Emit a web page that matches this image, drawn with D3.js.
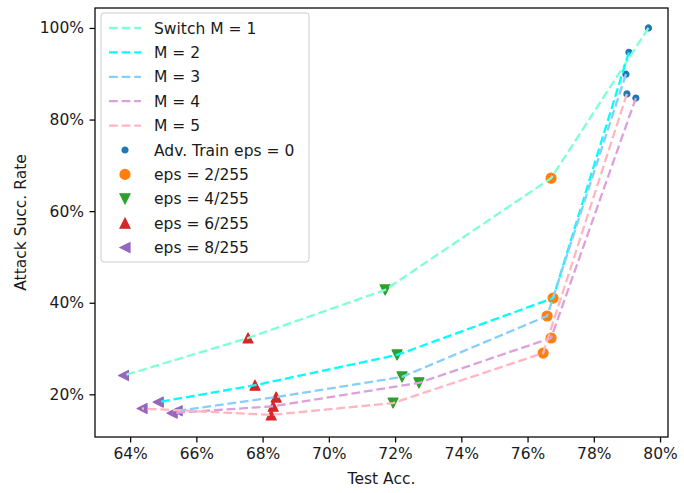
<!DOCTYPE html>
<html>
<head>
<meta charset="utf-8">
<script src="https://cdn.jsdelivr.net/npm/d3@7"></script>
<style>
  html, body { margin: 0; padding: 0; background: #fff; }
  svg { display: block; }
  text { font-family: "DejaVu Sans", sans-serif; fill: #1a1a1a; }
</style>
</head>
<body>
<svg id="chart" width="684" height="493"></svg>
<script>
// Model variants (one dashed line each)
const seriesNames = ["Switch M = 1", "M = 2", "M = 3", "M = 4", "M = 5"];
const seriesColors = ["#7fffd4", "#00ffff", "#87cefa", "#dda0dd", "#ffb6c1"];

// Adversarial-training strengths, in the same order as the values below
const epsLabels = ["Adv. Train eps = 0", "eps = 2/255", "eps = 4/255", "eps = 6/255", "eps = 8/255"];
const epsColors = ["#1f77b4", "#ff7f0e", "#2ca02c", "#d62728", "#9467bd"];
const epsMarkers = ["point", "circle", "down", "up", "left"];

// Test accuracy (%) per series, eps = 0, 2, 4, 6, 8
const testAccM1 = [79.65, 76.71, 71.70, 67.56, 63.80];
const testAccM2 = [79.06, 76.77, 72.06, 67.77, 64.85];
const testAccM3 = [78.97, 76.59, 72.21, 68.41, 65.42];
const testAccM4 = [79.27, 76.71, 72.72, 68.32, 65.27];
const testAccM5 = [79.00, 76.47, 71.94, 68.26, 64.36];

// Attack success rate (%) per series, eps = 0, 2, 4, 6, 8
const attackM1 = [100.0, 67.2, 42.8, 32.3, 24.1];
const attackM2 = [94.7, 41.0, 28.6, 22.0, 18.3];
const attackM3 = [89.9, 37.1, 23.8, 19.4, 16.4];
const attackM4 = [84.7, 32.3, 22.5, 17.4, 15.9];
const attackM5 = [85.6, 29.0, 18.1, 15.5, 16.9];

const xTicks = [64, 66, 68, 70, 72, 74, 76, 78, 80];
const yTicks = [20, 40, 60, 80, 100];

const testAcc = [testAccM1, testAccM2, testAccM3, testAccM4, testAccM5];
const attack = [attackM1, attackM2, attackM3, attackM4, attackM5];

const W = 684, H = 493;
const margin = { left: 95, top: 8, right: 16, bottom: 56 };
const pw = W - margin.left - margin.right;
const ph = H - margin.top - margin.bottom;
const fontSize = 15.5;

const svg = d3.select("#chart");
const g = svg.append("g").attr("transform", `translate(${margin.left},${margin.top})`);

const x = d3.scaleLinear().domain([62.94, 80.24]).range([0, pw]);
const y = d3.scaleLinear().domain([10.68, 104.36]).range([ph, 0]);

// Marker shapes (size = full width in px)
function markerPath(kind, s) {
  const h = s / 2;
  switch (kind) {
    case "point": { const r = s * 0.3; return `M${r},0A${r},${r} 0 1,1 ${-r},0A${r},${r} 0 1,1 ${r},0Z`; }
    case "circle": return `M${h},0A${h},${h} 0 1,1 ${-h},0A${h},${h} 0 1,1 ${h},0Z`;
    case "up": return `M0,${-h}L${-h},${h}L${h},${h}Z`;
    case "down": return `M0,${h}L${-h},${-h}L${h},${-h}Z`;
    case "left": return `M${-h},0L${h},${-h}L${h},${h}Z`;
  }
}
const markerSize = 10;

// Scatter markers, grouped by eps
const markersG = g.append("g");
epsLabels.forEach((lab, ei) => {
  const pts = seriesNames.map((_, si) => [testAcc[si][ei], attack[si][ei]]);
  markersG.append("g").selectAll("path").data(pts).join("path")
    .attr("transform", d => `translate(${x(d[0])},${y(d[1])})`)
    .attr("d", markerPath(epsMarkers[ei], markerSize))
    .attr("fill", epsColors[ei])
    .attr("stroke", epsColors[ei])
    .attr("stroke-width", 1.2)
    .attr("stroke-linejoin", "round");
});

// Dashed lines per series (drawn above the markers)
const line = d3.line().x(d => x(d[0])).y(d => y(d[1]));
seriesNames.forEach((name, si) => {
  const pts = testAcc[si].map((v, i) => [v, attack[si][i]]);
  g.append("path")
    .attr("d", line(pts))
    .attr("fill", "none")
    .attr("stroke", seriesColors[si])
    .attr("stroke-width", 2.3)
    .attr("stroke-dasharray", "8.8,3.8");
});

// Axes
const xAxis = d3.axisBottom(x).tickValues(xTicks).tickFormat(d => d + "%").tickSizeOuter(0).tickSize(5.5).tickPadding(5.5);
const yAxis = d3.axisLeft(y).tickValues(yTicks).tickFormat(d => d + "%").tickSizeOuter(0).tickSize(5.5).tickPadding(5.5);

const gx = g.append("g").attr("transform", `translate(0,${ph})`).call(xAxis);
const gy = g.append("g").call(yAxis);
[gx, gy].forEach(a => {
  a.select(".domain").remove();
  a.selectAll(".tick line").attr("stroke", "#000").attr("stroke-width", 1.25);
  a.selectAll(".tick text").attr("font-size", fontSize).attr("font-family", "DejaVu Sans").attr("fill", "#1a1a1a");
});

// Frame
g.append("rect").attr("x", 0).attr("y", 0).attr("width", pw).attr("height", ph)
  .attr("fill", "none").attr("stroke", "#000").attr("stroke-width", 1.25);

// Axis titles
svg.append("text")
  .attr("x", margin.left + pw / 2).attr("y", H - 9)
  .attr("text-anchor", "middle").attr("font-size", fontSize)
  .text("Test Acc.");
svg.append("text")
  .attr("transform", `translate(26,${margin.top + ph / 2}) rotate(-90)`)
  .attr("text-anchor", "middle").attr("font-size", fontSize)
  .text("Attack Succ. Rate");

// Legend
const leg = g.append("g").attr("transform", "translate(6,5)");
const rowH = 24.4;
const legW = 208, legH = 249;
leg.append("rect").attr("width", legW).attr("height", legH).attr("rx", 3)
  .attr("fill", "#fff").attr("fill-opacity", 0.8).attr("stroke", "#cccccc").attr("stroke-width", 1);
const firstRow = 15;
seriesNames.forEach((name, i) => {
  const cy = firstRow + i * rowH;
  leg.append("line").attr("x1", 8).attr("x2", 40).attr("y1", cy).attr("y2", cy)
    .attr("stroke", seriesColors[i]).attr("stroke-width", 2.3).attr("stroke-dasharray", "8.8,3.8");
  leg.append("text").attr("x", 53).attr("y", cy).attr("dy", "0.36em").attr("font-size", fontSize).text(name);
});
epsLabels.forEach((lab, i) => {
  const cy = firstRow + (i + 5) * rowH;
  leg.append("path").attr("transform", `translate(24,${cy})`)
    .attr("d", markerPath(epsMarkers[i], markerSize))
    .attr("fill", epsColors[i]).attr("stroke", epsColors[i]).attr("stroke-width", 1.2);
  leg.append("text").attr("x", 53).attr("y", cy).attr("dy", "0.36em").attr("font-size", fontSize).text(lab);
});
</script>
</body>
</html>
